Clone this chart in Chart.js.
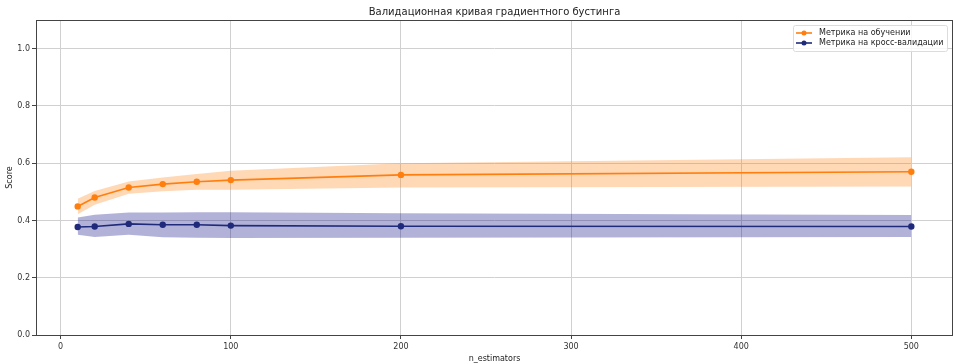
<!DOCTYPE html>
<html>
<head>
<meta charset="utf-8">
<script src="https://cdn.jsdelivr.net/npm/chart.js"></script>
<style>
  html, body { margin: 0; padding: 0; background: #fff; }
  #wrap { width: 953px; height: 364px; }
</style>
</head>
<body>
<div id="wrap"><canvas id="curve"></canvas></div>
<script>
// n_estimators values
const nEstimators = [10, 20, 40, 60, 80, 100, 200, 500];

// train metric: mean and band (mean +- std)
const trainMean  = [0.449, 0.480, 0.515, 0.527, 0.535, 0.541, 0.559, 0.570];
const trainUpper = [0.476, 0.503, 0.536, 0.550, 0.562, 0.574, 0.600, 0.621];
const trainLower = [0.422, 0.455, 0.493, 0.502, 0.507, 0.507, 0.515, 0.519];

// cross-validation metric
const cvMean  = [0.377, 0.379, 0.388, 0.385, 0.385, 0.382, 0.380, 0.379];
const cvUpper = [0.410, 0.420, 0.428, 0.428, 0.429, 0.429, 0.425, 0.419];
const cvLower = [0.350, 0.342, 0.350, 0.341, 0.340, 0.339, 0.340, 0.342];

const xTicks = [0, 100, 200, 300, 400, 500];
const yTicks = [0.0, 0.2, 0.4, 0.6, 0.8, 1.0];

const titleText = 'Валидационная кривая градиентного бустинга';
const trainLabel = 'Метрика на обучении';
const cvLabel = 'Метрика на кросс-валидации';

const orange = '#ff7f0e';
const navy = '#1f2a7a';
const font = 'DejaVu Sans';

const pts = arr => arr.map((y, i) => ({ x: nEstimators[i], y: y }));

// title, frame and matplotlib-like legend
const extras = {
  id: 'extras',
  afterDraw(chart) {
    const ctx = chart.ctx;
    const a = chart.chartArea;
    ctx.save();
    ctx.strokeStyle = '#444';
    ctx.lineWidth = 1;
    ctx.strokeRect(a.left + 0.5, a.top + 0.5, a.right - a.left - 1, a.bottom - a.top);

    ctx.fillStyle = '#222';
    ctx.font = '10px "' + font + '"';
    ctx.textAlign = 'center';
    ctx.textBaseline = 'middle';
    ctx.fillText(titleText, (a.left + a.right) / 2, 12);

    // legend box
    const bx = 793, by = 25, bw = 154, bh = 26;
    ctx.fillStyle = 'rgba(255,255,255,0.85)';
    ctx.strokeStyle = '#dcdcdc';
    ctx.beginPath();
    ctx.roundRect(bx + 0.5, by + 0.5, bw, bh, 2);
    ctx.fill();
    ctx.stroke();
    const items = [[trainLabel, orange], [cvLabel, navy]];
    ctx.font = '8px "' + font + '"';
    ctx.textAlign = 'left';
    items.forEach((it, i) => {
      const y = by + 8 + i * 10;
      ctx.strokeStyle = it[1];
      ctx.lineWidth = 1.6;
      ctx.beginPath();
      ctx.moveTo(bx + 3, y);
      ctx.lineTo(bx + 19, y);
      ctx.stroke();
      ctx.fillStyle = it[1];
      ctx.beginPath();
      ctx.arc(bx + 11, y, 2.5, 0, Math.PI * 2);
      ctx.fill();
      ctx.fillStyle = '#222';
      ctx.fillText(it[0], bx + 26, y);
    });
    ctx.restore();
  }
};

new Chart(document.getElementById('curve'), {
  type: 'line',
  data: {
    datasets: [
      { label: 'train upper', data: pts(trainUpper), borderWidth: 0, pointRadius: 0,
        backgroundColor: 'rgba(255,127,14,0.3)', fill: '+1', order: 4 },
      { label: 'train lower', data: pts(trainLower), borderWidth: 0, pointRadius: 0,
        backgroundColor: 'rgba(255,127,14,0.3)', fill: false, order: 4 },
      { label: 'cv upper', data: pts(cvUpper), borderWidth: 0, pointRadius: 0,
        backgroundColor: 'rgba(0,0,128,0.3)', fill: '+1', order: 4 },
      { label: 'cv lower', data: pts(cvLower), borderWidth: 0, pointRadius: 0,
        backgroundColor: 'rgba(0,0,128,0.3)', fill: false, order: 4 },
      { label: trainLabel, data: pts(trainMean), borderColor: orange, backgroundColor: orange,
        borderWidth: 1.6, pointRadius: 3.2, pointBorderWidth: 0, pointHoverRadius: 3.2,
        fill: false, order: 1 },
      { label: cvLabel, data: pts(cvMean), borderColor: navy, backgroundColor: navy,
        borderWidth: 1.6, pointRadius: 3.2, pointBorderWidth: 0, pointHoverRadius: 3.2,
        fill: false, order: 1 }
    ]
  },
  options: {
    responsive: true,
    maintainAspectRatio: false,
    animation: false,
    layout: { autoPadding: false, padding: { top: 20, right: 0, left: 0, bottom: 0 } },
    plugins: {
      legend: { display: false },
      tooltip: { enabled: false },
      title: { display: false }
    },
    scales: {
      x: {
        type: 'linear',
        min: -14.5,
        max: 524.5,
        afterBuildTicks: s => { s.ticks = xTicks.map(v => ({ value: v })); },
        afterFit: s => { s.height = 29; },
        ticks: { color: '#333', font: { family: font, size: 8 }, padding: 3, maxRotation: 0 },
        grid: { color: '#d0d0d0', lineWidth: 1, tickLength: 4, tickColor: '#444' },
        border: { display: false },
        title: { display: true, text: 'n_estimators', color: '#222',
                 font: { family: font, size: 8 }, padding: { top: 2, bottom: 0 } }
      },
      y: {
        min: 0,
        max: 1.1,
        afterBuildTicks: s => { s.ticks = yTicks.map(v => ({ value: v })); },
        afterFit: s => { s.width = 36; },
        ticks: { color: '#333', font: { family: font, size: 8 }, padding: 2,
                 callback: v => v.toFixed(1) },
        grid: { color: '#d0d0d0', lineWidth: 1, tickLength: 4, tickColor: '#444' },
        border: { display: false },
        title: { display: true, text: 'Score', color: '#222',
                 font: { family: font, size: 8 }, padding: { top: 5, bottom: 2 } }
      }
    }
  },
  plugins: [extras]
});
</script>
</body>
</html>
